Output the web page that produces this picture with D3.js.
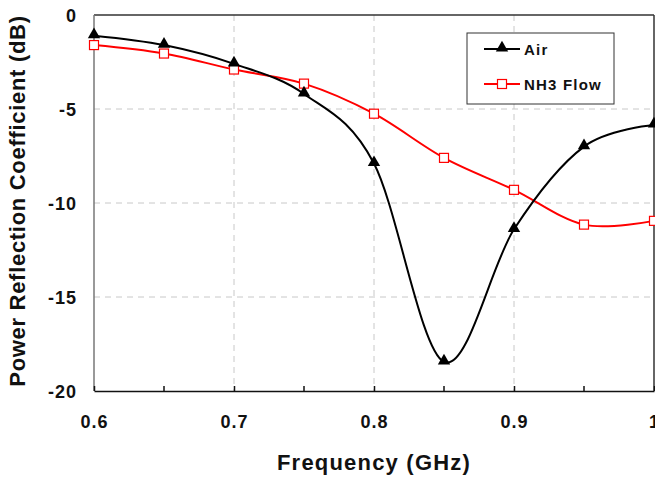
<!DOCTYPE html>
<html lang="en">
<head>
  <title>power reflection coefficient</title>
  <script type="text/javascript" src="https://cdnjs.cloudflare.com/ajax/libs/d3/7.8.5/d3.min.js"></script>
  <style>
    body { margin: 0; background: #fff; }
    text { font-family: "Liberation Sans", Arial, sans-serif; font-weight: bold; }
  </style>
</head>
<body>
  <script type="text/javascript">
    var width = 655;
    var height = 478;

    var frequency = [0.6, 0.65, 0.7, 0.75, 0.8, 0.85, 0.9, 0.95, 1.0];
    var air = [-1.1, -1.6, -2.6, -4.2, -7.9, -18.45, -11.4, -7.0, -5.85];
    var nh3 = [-1.6, -2.05, -2.9, -3.65, -5.25, -7.6, -9.3, -11.15, -10.95];
    var xTicks = [0.6, 0.7, 0.8, 0.9, 1.0];
    var xMinor = [0.65, 0.75, 0.85, 0.95];
    var yTicks = [0, -5, -10, -15, -20];

    var plotL = 94, plotR = 654, plotT = 15, plotB = 391;

    var x = d3.scaleLinear().domain([0.6, 1.0]).range([plotL, plotR]);
    var y = d3.scaleLinear().domain([-20, 0]).range([plotB, plotT]);

    var svg = d3.select("body").append("svg")
      .attr("width", width)
      .attr("height", height);

    // dashed grid
    svg.selectAll(".hgrid")
      .data([-5, -10, -15])
      .enter().append("line")
      .attr("x1", plotL).attr("x2", plotR)
      .attr("y1", function (d) { return y(d); })
      .attr("y2", function (d) { return y(d); })
      .attr("stroke", "#c8c8c8").attr("stroke-width", 1)
      .attr("stroke-dasharray", "6,5");

    svg.selectAll(".vgrid")
      .data([0.7, 0.8, 0.9])
      .enter().append("line")
      .attr("y1", plotT).attr("y2", plotB)
      .attr("x1", function (d) { return x(d); })
      .attr("x2", function (d) { return x(d); })
      .attr("stroke", "#c8c8c8").attr("stroke-width", 1)
      .attr("stroke-dasharray", "6,5");

    // frame
    svg.append("line").attr("x1", plotL).attr("x2", plotR).attr("y1", plotT).attr("y2", plotT)
      .attr("stroke", "#333").attr("stroke-width", 1.5);
    svg.append("line").attr("x1", plotR).attr("x2", plotR).attr("y1", plotT).attr("y2", plotB)
      .attr("stroke", "#333").attr("stroke-width", 1.5);
    svg.append("line").attr("x1", plotL).attr("x2", plotL).attr("y1", plotT).attr("y2", plotB)
      .attr("stroke", "#777").attr("stroke-width", 1.5);

    // bottom axis
    var xAxis = d3.axisBottom(x).tickValues(xTicks)
      .tickFormat(function (d) { return d === 1 ? "1" : d3.format(".1f")(d); })
      .tickSizeInner(-5).tickSizeOuter(0).tickPadding(22);
    var gx = svg.append("g").attr("transform", "translate(0," + plotB + ")").call(xAxis);
    gx.select(".domain").attr("stroke", "#111").attr("stroke-width", 1.5);
    gx.selectAll(".tick line").attr("stroke", "#111").attr("stroke-width", 1.5);
    gx.selectAll("text").attr("font-size", 18).attr("fill", "#111")
      .attr("letter-spacing", 1).attr("dy", null).attr("y", 37);
    gx.selectAll(".minor").data(xMinor).enter().append("line")
      .attr("class", "minor")
      .attr("x1", function (d) { return x(d); }).attr("x2", function (d) { return x(d); })
      .attr("y1", 0).attr("y2", -5)
      .attr("stroke", "#111").attr("stroke-width", 1.5);

    // left axis labels
    svg.selectAll(".ylab").data(yTicks).enter().append("text")
      .attr("x", 77)
      .attr("y", function (d) { return y(d) + 6.5; })
      .attr("text-anchor", "end")
      .attr("font-size", 18)
      .attr("letter-spacing", 1)
      .attr("fill", "#111")
      .text(function (d) { return d; });

    // series
    var line = d3.line()
      .x(function (d, i) { return x(frequency[i]); })
      .y(function (d) { return y(d); })
      .curve(d3.curveCardinal.tension(0));

    svg.append("path").datum(nh3).attr("d", line)
      .attr("fill", "none").attr("stroke", "#ff0000").attr("stroke-width", 2);
    svg.append("path").datum(air).attr("d", line)
      .attr("fill", "none").attr("stroke", "#000").attr("stroke-width", 2);

    var tri = d3.symbol().type(d3.symbolTriangle).size(66);

    svg.selectAll(".sq").data(nh3).enter().append("rect")
      .attr("x", function (d, i) { return x(frequency[i]) - 4.5; })
      .attr("y", function (d) { return y(d) - 4.5; })
      .attr("width", 9).attr("height", 9)
      .attr("fill", "#fff").attr("stroke", "#ff0000").attr("stroke-width", 1.2);

    svg.selectAll(".tri").data(air).enter().append("path")
      .attr("d", tri)
      .attr("transform", function (d, i) {
        return "translate(" + x(frequency[i]) + "," + (y(d) - 1) + ")";
      })
      .attr("fill", "#000");

    // legend
    svg.append("rect").attr("x", 467).attr("y", 33).attr("width", 147).attr("height", 71)
      .attr("fill", "#fff").attr("stroke", "#333").attr("stroke-width", 1);
    svg.append("line").attr("x1", 484).attr("x2", 520).attr("y1", 49).attr("y2", 49)
      .attr("stroke", "#000").attr("stroke-width", 2);
    svg.append("path").attr("d", tri).attr("transform", "translate(502,48)").attr("fill", "#000");
    svg.append("text").attr("x", 524).attr("y", 54.5).attr("font-size", 15).attr("fill", "#111")
      .attr("letter-spacing", 1.2).text("Air");
    svg.append("line").attr("x1", 484).attr("x2", 520).attr("y1", 84).attr("y2", 84)
      .attr("stroke", "#ff0000").attr("stroke-width", 2);
    svg.append("rect").attr("x", 497.5).attr("y", 79.5).attr("width", 9).attr("height", 9)
      .attr("fill", "#fff").attr("stroke", "#ff0000").attr("stroke-width", 1.2);
    svg.append("text").attr("x", 524).attr("y", 89.5).attr("font-size", 15).attr("fill", "#111")
      .attr("letter-spacing", 1.2).text("NH3 Flow");

    // axis titles
    svg.append("text").attr("x", 374).attr("y", 470).attr("text-anchor", "middle")
      .attr("font-size", 22).attr("fill", "#111").attr("letter-spacing", 1.2)
      .text("Frequency (GHz)");
    svg.append("text")
      .attr("transform", "translate(25,201) rotate(-90)")
      .attr("text-anchor", "middle")
      .attr("font-size", 22).attr("fill", "#111").attr("letter-spacing", 0.7)
      .text("Power Reflection Coefficient (dB)");
  </script>
</body>
</html>
